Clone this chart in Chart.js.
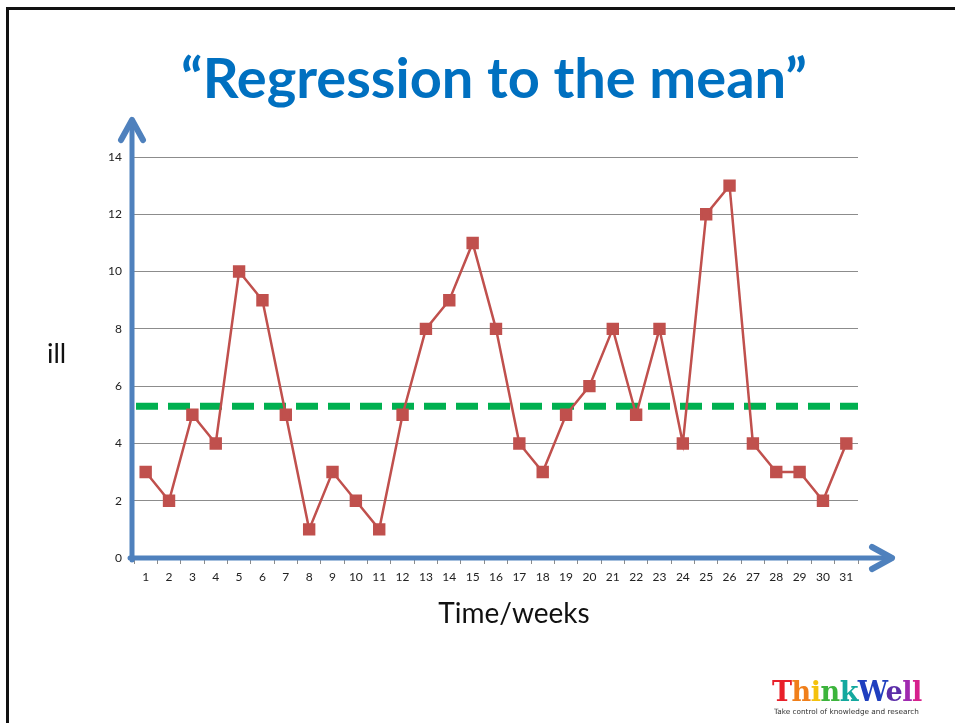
<!DOCTYPE html>
<html>
<head>
<meta charset="utf-8">
<script src="https://cdn.jsdelivr.net/npm/chart.js@4.4.1/dist/chart.umd.min.js"></script>
<style>
  html, body { margin: 0; padding: 0; background: #fff; }
  body { width: 955px; height: 723px; position: relative; overflow: hidden; }
  .slide-border {
    position: absolute; left: 6px; top: 7px; width: 1100px; height: 900px;
    border: 3px solid #111; box-sizing: border-box;
  }
  #chart { position: absolute; left: 0; top: 0; }
  .title {
    position: absolute; left: 0; width: 988px; top: 43px; text-align: center;
    font-family: Lato, "Open Sans", sans-serif; font-weight: 700; font-size: 56px;
    color: #0070C0; line-height: 68px; white-space: nowrap;
  }
  .ylab {
    position: absolute; left: 47px; top: 336px;
    font-family: Lato, "Open Sans", sans-serif; font-size: 27px; color: #111;
  }
  .xlab {
    position: absolute; left: 0; width: 1028px; top: 595px; text-align: center;
    font-family: Lato, "Open Sans", sans-serif; font-size: 28px; color: #111;
  }
  .logo {
    position: absolute; left: 772px; top: 677px; width: 170px;
    font-family: "DejaVu Serif", serif; font-weight: 700; font-size: 27px; line-height: 30px;
    letter-spacing: -0.5px;
  }
  .logo small {
    display: block; font-family: "DejaVu Sans", sans-serif; font-weight: 400;
    font-size: 7.3px; line-height: 9px; color: #333; letter-spacing: 0; margin-left: 2px;
  }
</style>
</head>
<body>
<div class="slide-border"></div>
<canvas id="chart" width="955" height="723"></canvas>
<div class="title">“Regression to the mean”</div>
<div class="ylab">ill</div>
<div class="xlab">Time/weeks</div>
<div class="logo"><span style="color:#e8202a">T</span><span style="color:#f07f1a">h</span><span style="color:#f4c20d">i</span><span style="color:#3cb43c">n</span><span style="color:#13a89e">k</span><span style="color:#1f3fbf">W</span><span style="color:#5b2da8">e</span><span style="color:#a02ab0">l</span><span style="color:#d6208c">l</span><small>Take control of knowledge and research</small></div>
<script>
// Données
const weeks = ['1','2','3','4','5','6','7','8','9','10','11','12','13','14','15','16',
  '17','18','19','20','21','22','23','24','25','26','27','28','29','30','31'];
const illCounts = [3, 2, 5, 4, 10, 9, 5, 1, 3, 2, 1, 5, 8, 9, 11, 8,
  4, 3, 5, 6, 8, 5, 8, 4, 12, 13, 4, 3, 3, 2, 4];
const meanValue = 5.3;
const yTicks = [0, 2, 4, 6, 8, 10, 12, 14];

const axisBlue = '#4F81BD';

// Ligne moyenne pointillée + flèches des axes
const overlay = {
  id: 'overlay',
  beforeDatasetsDraw(chart) {
    const { ctx, chartArea, scales } = chart;
    const y = scales.y.getPixelForValue(meanValue);
    ctx.save();
    ctx.strokeStyle = '#00B050';
    ctx.lineWidth = 7;
    ctx.setLineDash([22, 10]);
    ctx.beginPath();
    ctx.moveTo(chartArea.left + 2, y);
    ctx.lineTo(chartArea.right, y);
    ctx.stroke();
    ctx.restore();
  },
  afterDraw(chart) {
    const { ctx, chartArea } = chart;
    const x0 = chartArea.left - 2;
    const y0 = chartArea.bottom;
    const topTip = chartArea.top - 39;
    const rightTip = chartArea.right + 36;
    ctx.save();
    ctx.strokeStyle = axisBlue;
    ctx.lineCap = 'round';
    ctx.lineJoin = 'round';
    // axe vertical
    ctx.lineWidth = 5;
    ctx.beginPath();
    ctx.moveTo(x0, y0 + 2);
    ctx.lineTo(x0, topTip + 2);
    ctx.stroke();
    ctx.lineWidth = 6;
    ctx.beginPath();
    ctx.moveTo(x0 - 11, topTip + 22);
    ctx.lineTo(x0, topTip + 2);
    ctx.lineTo(x0 + 11, topTip + 22);
    ctx.stroke();
    // axe horizontal
    ctx.lineWidth = 5;
    ctx.beginPath();
    ctx.moveTo(x0 - 2, y0);
    ctx.lineTo(rightTip - 2, y0);
    ctx.stroke();
    ctx.lineWidth = 6;
    ctx.beginPath();
    ctx.moveTo(rightTip - 22, y0 - 11);
    ctx.lineTo(rightTip - 2, y0);
    ctx.lineTo(rightTip - 22, y0 + 11);
    ctx.stroke();
    ctx.restore();
  }
};

new Chart(document.getElementById('chart'), {
  type: 'line',
  data: {
    labels: weeks,
    datasets: [{
      label: 'ill',
      data: illCounts,
      borderColor: '#C0504D',
      backgroundColor: '#C0504D',
      borderWidth: 2.5,
      pointStyle: 'rect',
      pointRadius: 7,
      pointHoverRadius: 7,
      tension: 0
    }]
  },
  options: {
    responsive: false,
    animation: false,
    layout: { padding: { left: 94, right: 97, top: 157, bottom: 135 } },
    plugins: {
      legend: { display: false },
      tooltip: { enabled: false },
      title: { display: false }
    },
    scales: {
      x: {
        type: 'category',
        offset: true,
        afterFit: s => { s.height = 30; },
        border: { display: false },
        grid: {
          offset: true,
          drawOnChartArea: false,
          drawTicks: true,
          tickLength: 6,
          color: '#8c8c8c'
        },
        ticks: {
          color: '#222',
          padding: 6,
          maxRotation: 0,
          autoSkip: false,
          font: { family: 'Lato, "Open Sans", sans-serif', size: 12 }
        }
      },
      y: {
        min: 0,
        max: 14,
        afterFit: s => { s.width = 40; },
        afterBuildTicks: s => { s.ticks = yTicks.map(v => ({ value: v })); },
        border: { display: false },
        grid: {
          drawTicks: false,
          color: '#8c8c8c',
          lineWidth: 1
        },
        ticks: {
          color: '#222',
          padding: 12,
          font: { family: 'Lato, "Open Sans", sans-serif', size: 12 }
        }
      }
    }
  },
  plugins: [overlay]
});
</script>
</body>
</html>
